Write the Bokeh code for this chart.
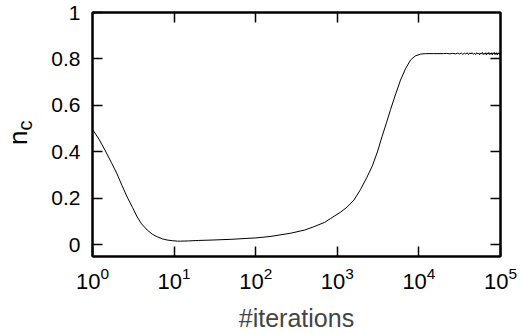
from bokeh.plotting import figure
from bokeh.models import (FixedTicker, LogAxis, LinearAxis, Range1d, Div,
                          CustomJSTickFormatter)
from bokeh.layouts import row
from bokeh.embed import file_html
from bokeh.resources import INLINE

# ---- data ----
iters = [1, 1.2, 1.44, 1.7, 2.0, 2.3, 2.66, 3.1, 3.53, 4.0, 4.68, 5.4, 6.2, 7.2,
         8.2, 9.5, 11, 12, 15, 20, 30, 50, 100, 150, 267, 400, 515, 700, 830,
         1100, 1320, 1600, 1925, 2300, 2690, 3100, 3550, 4000, 4490, 5200, 5950,
         6900, 7890, 9000, 10470, 12000, 15000, 20000]
nc = [0.497, 0.455, 0.404, 0.355, 0.305, 0.255, 0.206, 0.16, 0.12, 0.09, 0.064,
      0.046, 0.035, 0.026, 0.021, 0.018, 0.016, 0.016, 0.017, 0.019, 0.021,
      0.024, 0.030, 0.036, 0.05, 0.064, 0.078, 0.097, 0.114, 0.141, 0.163, 0.193,
      0.238, 0.29, 0.34, 0.4, 0.468, 0.525, 0.582, 0.65, 0.709, 0.76, 0.795,
      0.813, 0.821, 0.823, 0.823, 0.823]

tail_iters = [22000, 24000, 26000, 28000, 30000, 31500, 33000, 34500, 36000,
              37500, 39000, 40500, 42000, 43500, 45000, 46500, 48000, 49500,
              51000, 52500, 54000, 55500, 57000, 58500, 60000, 61500, 63000,
              64500, 66000, 67500, 69000, 70500, 72000, 73500, 75000, 76500,
              78000, 79500, 81000, 82500, 84000, 85500, 87000, 88500, 90000,
              91500, 93000, 94500, 96000, 97500, 99000, 100000]
tail_nc = [0.824, 0.822, 0.824, 0.822, 0.825, 0.821, 0.826, 0.820, 0.825,
           0.821, 0.827, 0.819, 0.826, 0.822, 0.827, 0.820, 0.825, 0.819,
           0.827, 0.821, 0.826, 0.818, 0.826, 0.822, 0.828, 0.819, 0.825,
           0.820, 0.827, 0.818, 0.826, 0.821, 0.828, 0.819, 0.825, 0.820,
           0.827, 0.818, 0.826, 0.822, 0.828, 0.819, 0.826, 0.820, 0.827,
           0.818, 0.825, 0.821, 0.827, 0.819, 0.826, 0.822]

x_ticks = [1, 10, 100, 1000, 10000, 100000]
y_ticks = [0, 0.2, 0.4, 0.6, 0.8, 1]
y_label_main = "n"
y_label_sub = "c"
x_label = "#iterations"

FONT = "Liberation Sans"
LABEL_W = 40

p = figure(width=520 - LABEL_W, height=334, x_axis_type="log",
           x_range=Range1d(1, 1e5), y_range=Range1d(-0.05, 1.0),
           output_backend="svg", toolbar_location=None,
           min_border_left=92 - LABEL_W, min_border_right=20,
           min_border_top=12, min_border_bottom=77)
p.grid.visible = False
p.background_fill_color = "white"
p.border_fill_color = "white"
p.outline_line_color = "black"
p.outline_line_width = 2

p.line(iters + tail_iters, nc + tail_nc, line_color="black", line_width=1)

def style(ax, labels=True):
    ax.axis_line_color = "black"
    ax.axis_line_width = 2
    ax.major_tick_in = 10
    ax.major_tick_out = 0
    ax.major_tick_line_width = 1.5
    ax.major_tick_line_color = "black"
    ax.minor_tick_line_color = None
    ax.major_label_text_font = FONT
    ax.major_label_text_color = "black"
    if labels:
        ax.major_label_text_font_size = "22px"
    else:
        ax.major_label_text_font_size = "1px"
        ax.major_label_text_alpha = 0
        ax.major_label_standoff = 0

xa = p.xaxis[0]
xa.ticker = FixedTicker(ticks=x_ticks)
style(xa)
xa.major_label_standoff = 10
xa.axis_label = x_label
xa.axis_label_text_font = FONT
xa.axis_label_text_font_style = "normal"
xa.axis_label_text_font_size = "25px"
xa.axis_label_standoff = 12

ya = p.yaxis[0]
ya.ticker = FixedTicker(ticks=y_ticks)
ya.formatter = CustomJSTickFormatter(code="return tick.toString();")
style(ya)
ya.major_label_text_font_size = "21px"
ya.major_label_standoff = 12

top = LogAxis(ticker=FixedTicker(ticks=x_ticks[1:-1]))
style(top, labels=False)
p.add_layout(top, "above")
right = LinearAxis(ticker=FixedTicker(ticks=y_ticks[:-1]))
style(right, labels=False)
p.add_layout(right, "right")

# rotated y-axis label with a real subscript
ylab_html = (
    '<div style="position:relative;width:%dpx;height:334px;">'
    '<span style="position:absolute;left:5px;top:145px;white-space:nowrap;'
    'transform:rotate(-90deg);transform-origin:left top;'
    "font-family:'%s';font-size:26px;line-height:26px;color:black;\">"
    '%s<sub style="font-size:20px;vertical-align:-5px;line-height:0;">%s</sub>'
    '</span></div>' % (LABEL_W, FONT, y_label_main, y_label_sub)
)
ylab = Div(text=ylab_html, width=LABEL_W, height=334, margin=0)

layout = row(ylab, p, spacing=0)
open("out.html", "w").write(file_html(layout, INLINE))
